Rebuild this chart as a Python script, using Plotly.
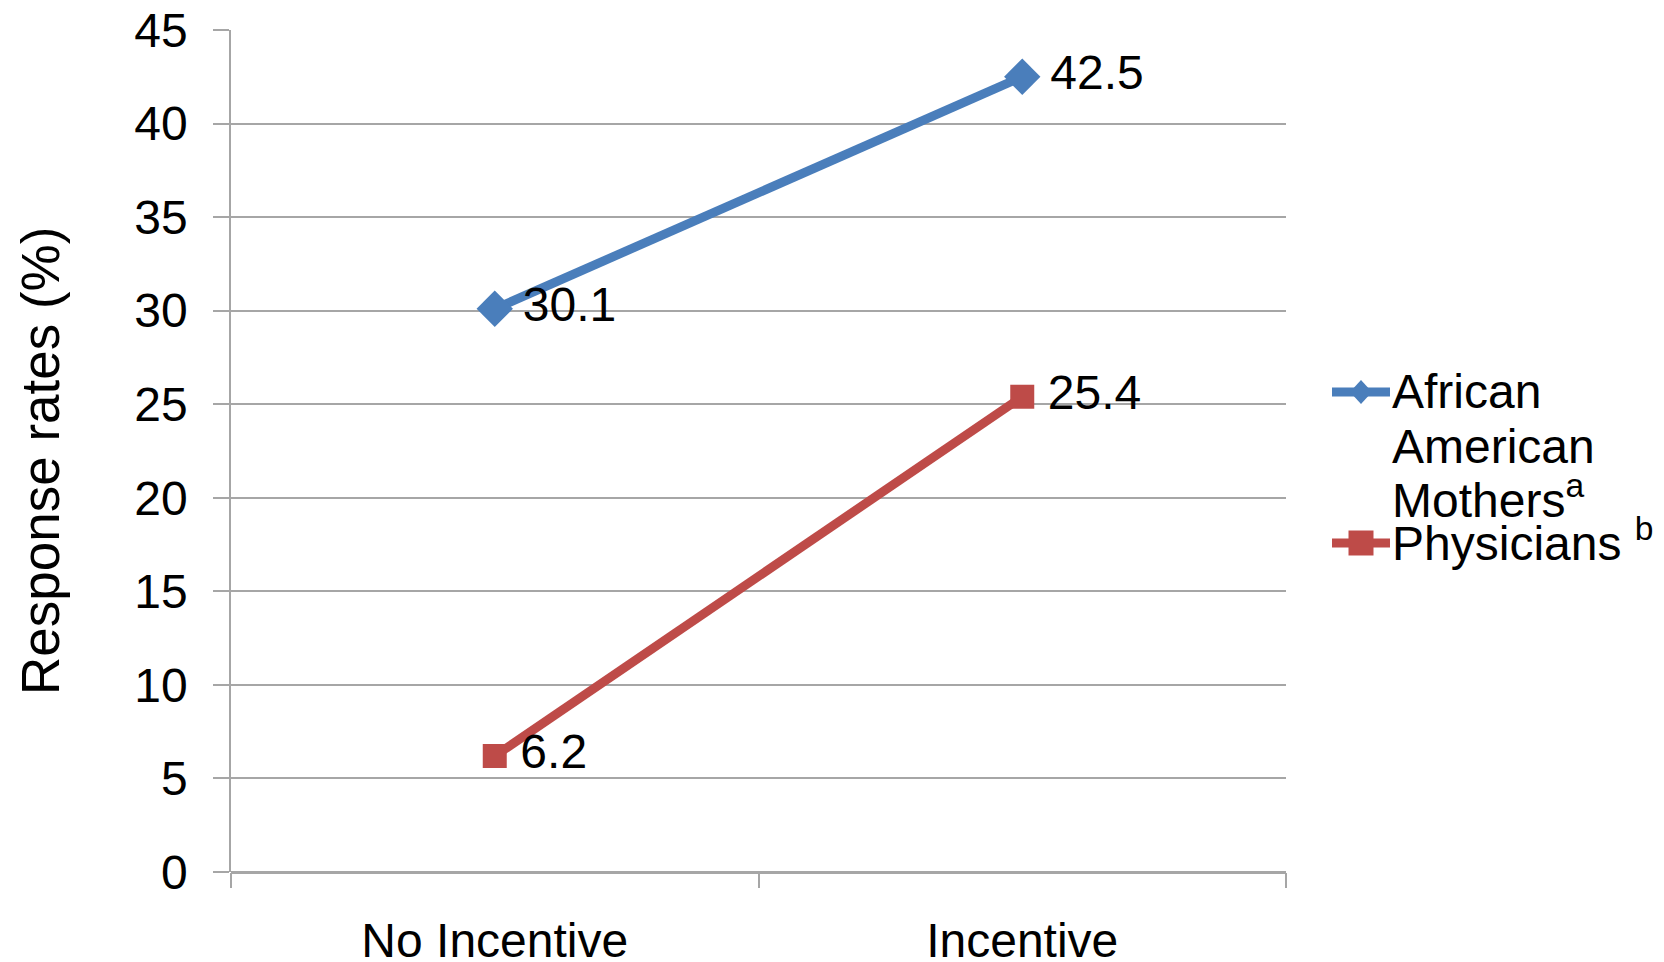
import plotly.graph_objects as go

categories = ["No Incentive", "Incentive"]
mothers = [30.1, 42.5]
physicians = [6.2, 25.4]
mothers_legend = ["African", "American", "Mothers<sup>a</sup>"]
physicians_legend = ["Physicians <sup>b</sup>"]
y_title = "Response rates (%)"

FONT = "Liberation Sans, Arial, sans-serif"
BLUE = "#4A7EBB"
RED = "#BE4B48"
GRID = "#A6A6A6"

# plot area in pixels (for placing the legend in paper units)
W, H = 1664, 962
L, R, T, B = 231, 378, 30, 90
PW, PH = W - L - R, H - T - B


def px_x(px):
    return (px - L) / PW


def px_y(py):
    return (H - B - py) / PH


fig = go.Figure()
fig.add_trace(go.Scatter(
    x=categories, y=mothers, name="African American Mothers", mode="lines+markers+text",
    line=dict(color=BLUE, width=9),
    marker=dict(symbol="diamond", size=28, color=BLUE),
    text=[f"{v:.1f}" for v in mothers], textposition="middle right",
    texttemplate="\u2009%{text}",
    textfont=dict(size=48, color="black", family=FONT),
    showlegend=False,
))
fig.add_trace(go.Scatter(
    x=categories, y=physicians, name="Physicians", mode="lines+markers+text",
    line=dict(color=RED, width=9),
    marker=dict(symbol="square", size=24, color=RED),
    text=[f"{v:.1f}" for v in physicians], textposition="middle right",
    texttemplate="\u2009%{text}",
    textfont=dict(size=48, color="black", family=FONT),
    showlegend=False,
))

# y axis title
fig.add_annotation(
    text=y_title, textangle=-90, xref="paper", yref="paper",
    x=px_x(40), y=px_y(461), xanchor="center", yanchor="middle", showarrow=False,
    font=dict(size=53, family=FONT, color="black"),
)

# custom legend
text_x = px_x(1390)
line_x0, line_x1, sym_x = px_x(1332), px_x(1390), px_x(1361)
entries = [
    (BLUE, "diamond", 392, mothers_legend, [391, 446, 497]),
    (RED, "square", 543, physicians_legend, [540]),
]
for color, sym, ly, lines, tys in entries:
    fig.add_shape(type="line", xref="paper", yref="paper",
                  x0=line_x0, x1=line_x1, y0=px_y(ly), y1=px_y(ly),
                  line=dict(color=color, width=9))
    if sym == "diamond":
        fig.add_shape(type="path", xref="paper", yref="paper",
                      xsizemode="pixel", ysizemode="pixel",
                      xanchor=sym_x, yanchor=px_y(ly),
                      path="M0,12 L11,0 L0,-12 L-11,0 Z",
                      fillcolor=color, line=dict(width=0))
    else:
        fig.add_shape(type="rect", xref="paper", yref="paper",
                      xsizemode="pixel", ysizemode="pixel",
                      xanchor=sym_x, yanchor=px_y(ly),
                      x0=-12.5, x1=12.5, y0=-12.5, y1=12.5,
                      fillcolor=color, line=dict(width=0))
    for txt, ty in zip(lines, tys):
        fig.add_annotation(text=txt, xref="paper", yref="paper",
                           x=text_x, y=px_y(ty), xanchor="left", yanchor="middle",
                           showarrow=False, align="left",
                           font=dict(size=48, family=FONT, color="black"))

fig.update_layout(
    width=W, height=H,
    margin=dict(l=L, r=R, t=T, b=B, autoexpand=False),
    paper_bgcolor="white", plot_bgcolor="white",
    font=dict(family=FONT, size=48, color="black"),
    showlegend=False,
    xaxis=dict(type="category", range=[-0.5, 1.5], tickson="boundaries",
               ticks="outside", ticklen=15, tickcolor=GRID, tickwidth=1.5,
               showgrid=False, showline=False, zeroline=False, automargin=False,
               tickfont=dict(size=48), ticklabelstandoff=36),
    yaxis=dict(range=[0, 45], dtick=5, showgrid=True, gridcolor=GRID,
               gridwidth=1.5, ticks="outside", ticklen=16, tickcolor=GRID,
               tickwidth=1.5, showline=True, linecolor=GRID, linewidth=1.5,
               zeroline=True, zerolinecolor=GRID, zerolinewidth=2.5,
               automargin=False,
               tickfont=dict(size=48), ticklabelstandoff=16),
)

fig.write_html("out.html")
